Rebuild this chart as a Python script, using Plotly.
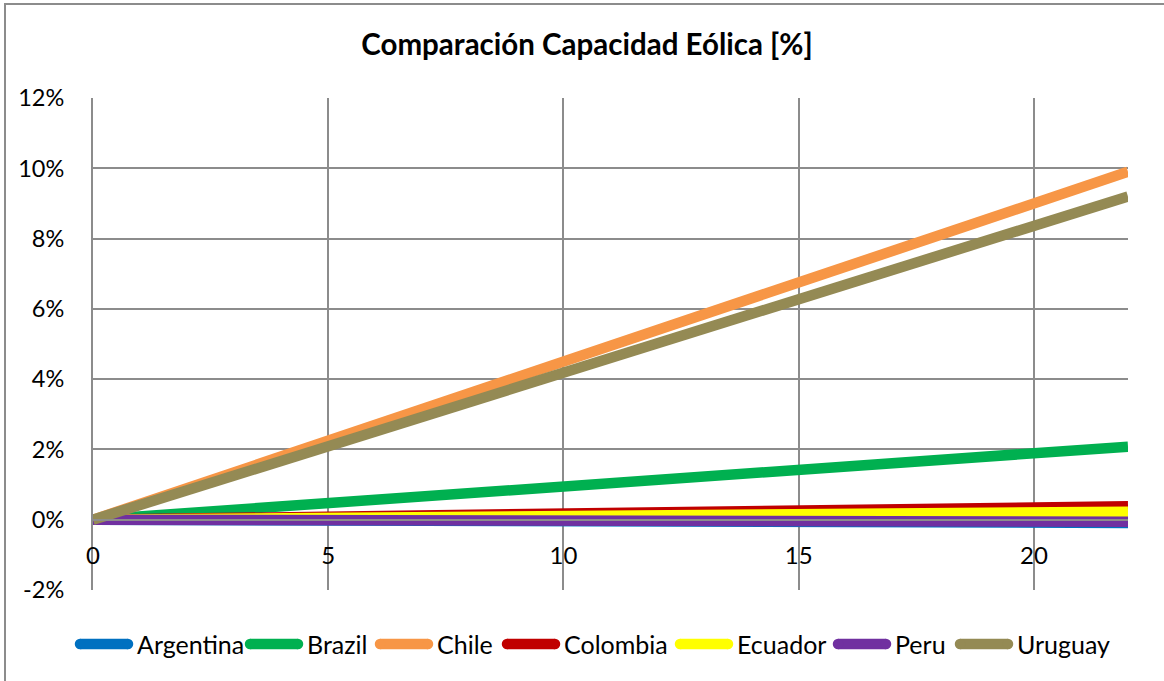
import plotly.graph_objects as go

# Years from the start of the comparison
years = [0, 5, 10, 15, 20, 22]

# Wind capacity share per country [%]
argentina = [0.0, -0.02, -0.04, -0.06, -0.08, -0.09]
brazil = [0.0, 0.47, 0.95, 1.42, 1.89, 2.08]
chile = [0.0, 2.25, 4.50, 6.75, 9.00, 9.90]
colombia = [0.0, 0.09, 0.17, 0.26, 0.35, 0.38]
ecuador = [0.0, 0.05, 0.10, 0.16, 0.21, 0.23]
peru = [0.0, -0.01, -0.03, -0.04, -0.05, -0.06]
uruguay = [0.0, 2.09, 4.18, 6.27, 8.36, 9.20]

countries = ["Argentina", "Brazil", "Chile", "Colombia", "Ecuador", "Peru", "Uruguay"]
values = [argentina, brazil, chile, colombia, ecuador, peru, uruguay]
colors = ["#0070C0", "#00B050", "#F79646", "#C00000", "#FFFF00", "#7030A0", "#948A54"]

x_ticks = [0, 5, 10, 15, 20]
y_ticks = [-2, 0, 2, 4, 6, 8, 10, 12]
y_tick_text = ["-2%", "0%", "2%", "4%", "6%", "8%", "10%", "12%"]

FONT = "Lato, 'Open Sans', sans-serif"
GRID = "#8c8c8c"
LINE_W = 10.5

W, H = 1164, 681
L, R, T, B = 93, 36, 98, 91
PW, PH = W - L - R, H - T - B


def px_x(px):
    return (px - L) / PW


def px_y(py):
    return (H - B - py) / PH


fig = go.Figure()
for name, vals, color in zip(countries, values, colors):
    fig.add_trace(go.Scatter(
        x=years, y=vals, name=name, mode="lines",
        line=dict(color=color, width=LINE_W),
        showlegend=False,
    ))

fig.update_layout(
    width=W, height=H,
    margin=dict(l=L, r=R, t=T, b=B, pad=0, autoexpand=False),
    paper_bgcolor="white", plot_bgcolor="white",
    font=dict(family=FONT, size=24, color="#000000"),
    title=dict(
        text="<b>Comparación Capacidad Eólica [%]</b>",
        font=dict(family=FONT, size=29.5, color="#000000"),
        x=587 / W, xref="container", xanchor="center",
        y=1 - 45 / H, yref="container", yanchor="middle",
    ),
    showlegend=False,
    xaxis=dict(
        range=[0, 22], tickvals=x_ticks, ticks="",
        showgrid=True, gridcolor=GRID, gridwidth=2,
        zeroline=False, showline=True, linecolor=GRID, linewidth=2,
        anchor="free", position=2 / 14,
        ticklabelstandoff=14,
        tickfont=dict(family=FONT, size=24, color="#000000"),
    ),
    yaxis=dict(
        range=[-2, 12], tickvals=y_ticks, ticktext=y_tick_text, ticks="",
        showgrid=True, gridcolor=GRID, gridwidth=2,
        zeroline=False, showline=True, linecolor=GRID, linewidth=2,
        ticklabelstandoff=22,
        tickfont=dict(family=FONT, size=23.5, color="#000000"),
    ),
)

# Chart-area border (left and top edges visible)
fig.add_shape(
    type="rect", xref="paper", yref="paper",
    x0=px_x(5), x1=1.2, y0=-0.4, y1=px_y(4),
    line=dict(color=GRID, width=2), fillcolor="rgba(0,0,0,0)",
    layer="below",
)

# Legend row: thick rounded swatch followed by the country name
legend_y = 644
swatch_starts = [75, 245, 375, 502, 675, 833, 955]
swatch_len = 58
for name, color, sx in zip(countries, colors, swatch_starts):
    x0, x1 = sx + 5, sx + swatch_len - 5
    fig.add_shape(
        type="line", xref="paper", yref="paper",
        x0=px_x(x0), x1=px_x(x1), y0=px_y(legend_y), y1=px_y(legend_y),
        line=dict(color=color, width=LINE_W),
    )
    for cx in (x0, x1):
        fig.add_shape(
            type="circle", xref="paper", yref="paper",
            xsizemode="pixel", ysizemode="pixel",
            xanchor=px_x(cx), yanchor=px_y(legend_y),
            x0=-LINE_W / 2, x1=LINE_W / 2, y0=-LINE_W / 2, y1=LINE_W / 2,
            line=dict(width=0), fillcolor=color,
        )
    fig.add_annotation(
        text=name, xref="paper", yref="paper",
        x=px_x(sx + swatch_len + 2), y=px_y(legend_y),
        xanchor="left", yanchor="middle", showarrow=False,
        font=dict(family=FONT, size=25, color="#000000"),
    )

fig.write_html("out.html")
